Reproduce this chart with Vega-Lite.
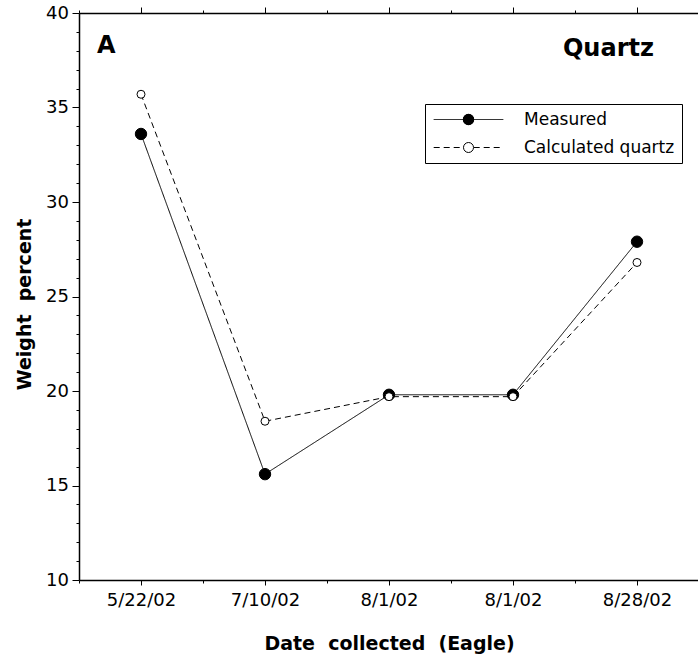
{
  "$schema": "https://vega.github.io/schema/vega-lite/v6.json",
  "width": 620,
  "height": 567,
  "autosize": {"type": "none"},
  "padding": {"left": 79, "top": 13, "right": 0, "bottom": 81},
  "background": "white",
  "config": {
    "view": {"stroke": null},
    "font": "DejaVu Sans",
    "axis": {
      "domainColor": "black",
      "domainWidth": 1.5,
      "tickColor": "black",
      "tickWidth": 1,
      "labelColor": "black",
      "titleColor": "black",
      "labelFont": "DejaVu Sans",
      "titleFont": "DejaVu Sans",
      "labelFontSize": 18,
      "titleFontSize": 19,
      "titleFontWeight": "bold",
      "grid": false,
      "labelOverlap": false,
      "labelFlush": false
    }
  },
  "datasets": {
    "points": [
      {"idx": 1, "date": "5/22/02", "series": "Measured", "value": 33.6},
      {"idx": 2, "date": "7/10/02", "series": "Measured", "value": 15.6},
      {"idx": 3, "date": "8/1/02", "series": "Measured", "value": 19.8},
      {"idx": 4, "date": "8/1/02", "series": "Measured", "value": 19.8},
      {"idx": 5, "date": "8/28/02", "series": "Measured", "value": 27.9},
      {"idx": 1, "date": "5/22/02", "series": "Calculated quartz", "value": 35.7},
      {"idx": 2, "date": "7/10/02", "series": "Calculated quartz", "value": 18.4},
      {"idx": 3, "date": "8/1/02", "series": "Calculated quartz", "value": 19.7},
      {"idx": 4, "date": "8/1/02", "series": "Calculated quartz", "value": 19.7},
      {"idx": 5, "date": "8/28/02", "series": "Calculated quartz", "value": 26.8}
    ],
    "labels": [
      {"idx": 0.645, "value": 37.87, "text": "A"},
      {"idx": 4.403, "value": 37.7, "text": "Quartz"}
    ]
  },
  "data": {"name": "points"},
  "encoding": {
    "y": {
      "field": "value",
      "type": "quantitative",
      "scale": {"domain": [10, 40], "nice": false, "zero": false},
      "axis": {
        "values": [10,11,12,13,14,15,16,17,18,19,20,21,22,23,24,25,26,27,28,29,30,31,32,33,34,35,36,37,38,39,40],
        "labelExpr": "datum.value % 5 === 0 ? datum.label : ''",
        "tickSize": {"condition": {"test": "datum.value % 5 === 0", "value": 7}, "value": 3},
        "labelPadding": 3.5,
        "title": "Weight\u00a0\u00a0percent",
        "titleX": -55,
        "titleY": 291,
        "titleAngle": -90,
        "titleAlign": "center",
        "titleBaseline": "middle"
      }
    }
  },
  "layer": [
    {
      "mark": {"type": "line", "color": "black", "strokeWidth": 1},
      "encoding": {
        "x": {
          "field": "idx",
          "type": "quantitative",
          "scale": {"domain": [0.5, 5.5], "nice": false, "zero": false},
          "axis": {
            "orient": "bottom",
            "values": [0.5,1,1.5,2,2.5,3,3.5,4,4.5,5,5.5],
            "labelExpr": "datum.value % 1 === 0 ? ['','5/22/02','7/10/02','8/1/02','8/1/02','8/28/02'][datum.value] : ''",
            "tickSize": {"condition": {"test": "datum.value % 1 === 0", "value": 5}, "value": 3},
            "labelPadding": 6,
            "title": "Date\u00a0\u00a0collected\u00a0\u00a0(Eagle)",
            "titleX": 310,
            "titleY": 69,
            "titleAlign": "center",
            "titleBaseline": "alphabetic"
          }
        },
        "strokeDash": {
          "field": "series",
          "type": "nominal",
          "scale": {"domain": ["Measured", "Calculated quartz"], "range": [[1, 0], [6, 4]]},
          "legend": {
            "title": null,
            "orient": "none",
            "direction": "vertical",
            "legendX": 346,
            "legendY": 91,
            "symbolType": "M-5.8,0H5.8",
            "symbolSize": 144,
            "symbolStrokeWidth": 1,
            "symbolStrokeColor": "black",
            "symbolOffset": 28,
            "labelOffset": 47,
            "labelFontSize": 17,
            "labelFont": "DejaVu Sans",
            "labelColor": "black",
            "strokeColor": "black",
            "padding": 7,
            "rowPadding": 10,
            "zindex": 1
          }
        }
      }
    },
    {
      "mark": {"type": "circle", "stroke": "black", "strokeWidth": 1, "opacity": 1},
      "encoding": {
        "x": {
          "field": "idx",
          "type": "quantitative",
          "axis": {
            "orient": "top",
            "values": [0.5,1,1.5,2,2.5,3,3.5,4,4.5,5,5.5],
            "labels": false,
            "title": null,
            "tickSize": {"condition": {"test": "datum.value % 1 === 0", "value": 6}, "value": 3}
          }
        },
        "fill": {
          "field": "series",
          "type": "nominal",
          "sort": ["Measured", "Calculated quartz"],
          "scale": {"range": ["black", "white"]},
          "legend": {
            "title": null,
            "orient": "none",
            "direction": "vertical",
            "legendX": 346,
            "legendY": 91,
            "symbolType": "circle",
            "symbolStrokeWidth": 1,
            "symbolStrokeColor": "black",
            "symbolOpacity": 1,
            "symbolOffset": 28,
            "labelOffset": 47,
            "labelFontSize": 17,
            "labelFont": "DejaVu Sans",
            "labelOpacity": 0,
            "padding": 7,
            "rowPadding": 10,
            "zindex": 2
          }
        },
        "size": {
          "field": "series",
          "type": "nominal",
          "sort": ["Measured", "Calculated quartz"],
          "scale": {"range": [130, 64]},
          "legend": {
            "title": null,
            "orient": "none",
            "direction": "vertical",
            "legendX": 346,
            "legendY": 91,
            "symbolType": "circle",
            "symbolStrokeWidth": 1,
            "symbolStrokeColor": "black",
            "symbolOpacity": 1,
            "symbolOffset": 28,
            "labelOffset": 47,
            "labelFontSize": 17,
            "labelFont": "DejaVu Sans",
            "labelOpacity": 0,
            "padding": 7,
            "rowPadding": 10,
            "zindex": 2
          }
        }
      }
    },
    {
      "data": {"name": "labels"},
      "mark": {"type": "text", "align": "left", "baseline": "alphabetic", "fontSize": 24, "fontWeight": "bold", "font": "DejaVu Sans", "color": "black"},
      "encoding": {
        "x": {"field": "idx", "type": "quantitative", "axis": null},
        "text": {"field": "text", "type": "nominal"}
      }
    }
  ],
  "resolve": {"axis": {"x": "independent"}}
}
